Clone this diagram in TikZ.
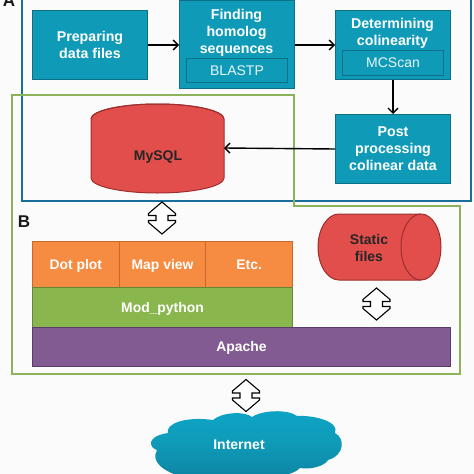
\documentclass[tikz,border=0pt]{standalone}
\usepackage{fontspec}
\setmainfont{Liberation Sans}
\usetikzlibrary{arrows.meta}
\definecolor{tealf}{HTML}{0F9BB8}
\definecolor{teald}{HTML}{0E6F86}
\definecolor{cloudb}{HTML}{0C86A4}
\definecolor{cloudt}{HTML}{0DA4C6}
\definecolor{redf}{HTML}{E14E4C}
\definecolor{redd}{HTML}{9E2F2E}
\definecolor{framea}{HTML}{1A6E9C}
\definecolor{frameb}{HTML}{8DB35A}
\definecolor{orangef}{HTML}{F68C42}
\definecolor{oranged}{HTML}{C8682A}
\definecolor{greenf}{HTML}{8AB64E}
\definecolor{purplef}{HTML}{825B93}
\definecolor{purpled}{HTML}{5A3D6B}
\definecolor{pagebg}{HTML}{FBFBFB}
\tikzset{
  tbox/.style={draw=teald,line width=1pt,fill=tealf,text=white,font=\fontsize{14.2}{17}\selectfont\bfseries,align=center,inner sep=0pt,anchor=north west},
  tlabel/.style={text=white,font=\fontsize{14.2}{17}\selectfont\bfseries,align=center,inner sep=0pt},
  inner box/.style={draw=teald,line width=1pt,fill=tealf,text=white!90!tealf,font=\fontsize{14}{16}\selectfont,inner sep=0pt,anchor=north west},
  layer/.style={line width=1pt,text=white,font=\fontsize{13.9}{15}\selectfont\bfseries,inner sep=0pt,anchor=north west,text height=10pt,text depth=0pt},
  flow/.style={-{Straight Barb[length=5pt,width=10pt]},line width=1.4pt,black},
  dblarrow/.pic={\draw[black,line width=1.1pt,fill=white,line join=miter]
    (0,-16) -- (-13.5,-4.5) -- (-13.5,-2.5) -- (-6,-2.5) -- (-6,2.5) -- (-13.5,2.5) -- (-13.5,4.5)
    -- (0,16) -- (13.5,4.5) -- (13.5,2.5) -- (6,2.5) -- (6,-2.5) -- (13.5,-2.5) -- (13.5,-4.5) -- cycle;},
  lab/.style={font=\fontsize{14}{17.5}\selectfont\bfseries,text=black!85,align=center,inner sep=0pt},
}
\begin{document}
\begin{tikzpicture}[x=1pt,y=-1pt]
\useasboundingbox (0,0) rectangle (474,474);
\fill[pagebg] (0,0) rectangle (474,474);
% frames
\draw[framea,line width=2pt] (21.5,-5) -- (21.5,201) -- (471,201) -- (471,-5);
\draw[frameb,line width=2pt] (12,95) -- (294,95) -- (294,206) -- (460,206) -- (460,374) -- (12,374) -- cycle;
\node[font=\fontsize{17}{17}\selectfont\bfseries,text=black!90,inner sep=0pt] (labA) at (9,1) {A};
\node[font=\fontsize{17}{17}\selectfont\bfseries,text=black!90,inner sep=0pt] (labB) at (24,222) {B};
% process boxes
\node[tbox,minimum width=115pt,minimum height=69pt] (prep) at (32,10) {Preparing\\data files};
\node[tbox,minimum width=115pt,minimum height=88pt] (find) at (179,0) {};
\node[tlabel] (findt) at (236.5,32.5) {Finding\\homolog\\sequences};
\node[inner box,minimum width=101pt,minimum height=24pt] (blast) at (186,58) {BLASTP};
\node[tbox,minimum width=115pt,minimum height=69pt] (det) at (335,10) {};
\node[tlabel] (dett) at (392.5,33) {Determining\\colinearity};
\node[inner box,minimum width=101pt,minimum height=25pt] (mcs) at (342,50) {MCScan};
\node[tbox,minimum width=115pt,minimum height=69pt] (post) at (335,114) {Post\\processing\\colinear data};
% MySQL
\path[draw=redd,line width=1pt,fill=redf] (91,119) -- (91,178) arc[start angle=180,end angle=360,x radius=66.5pt,y radius=15pt] -- (224,119) arc[start angle=0,end angle=180,x radius=66.5pt,y radius=15pt] -- cycle;
\draw[redd,line width=1pt] (91,119) arc[start angle=180,end angle=360,x radius=66.5pt,y radius=-15pt];
\coordinate (mysqlE) at (224,148);
\node[lab] (mysql) at (158,157) {MySQL};
% connectors
\draw[flow] (prep.east) -- (find.west |- prep.east);
\draw[flow] (find.east |- det.west) -- (det.west);
\draw[flow] (det.south) -- (post.north);
\draw[flow] (post.west) -- (mysqlE);
% Static files
\path[draw=redd,line width=1pt,fill=redf] (339,214) -- (421,214) arc[start angle=90,end angle=-90,x radius=20pt,y radius=33pt] -- (339,280) arc[start angle=270,end angle=90,x radius=21pt,y radius=33pt] -- cycle;
\draw[redd,line width=1pt] (421,214) arc[start angle=90,end angle=270,x radius=20pt,y radius=33pt];
\node[lab] (static) at (369,248) {Static\\files};
% stack
\node[layer,draw=oranged,fill=orangef,minimum width=86.7pt,minimum height=46pt] (dot) at (32,241) {Dot plot};
\node[layer,draw=oranged,fill=orangef,minimum width=86.7pt,minimum height=46pt] (map) at (118.7,241) {Map view};
\node[layer,draw=oranged,fill=orangef,minimum width=86.6pt,minimum height=46pt] (etc) at (205.4,241) {Etc.};
\node[layer,draw=greenf!75!black,fill=greenf,minimum width=260pt,minimum height=39.5pt] (mod) at (32,287) {Mod\_python};
\node[layer,draw=purpled,fill=purplef,minimum width=418pt,minimum height=39.5pt] (apache) at (32,326.5) {Apache};
% double arrows
\pic (a1) at (162,218) {dblarrow};
\pic (a2) at (376.5,304) {dblarrow};
\pic (a3) at (246,395.5) {dblarrow};
% cloud
\path[top color=cloudt,bottom color=cloudb,middle color=tealf] (157,450)
 .. controls (148,447) and (147,436) .. (168,433)
 .. controls (165,424) and (185,416) .. (213,420)
 .. controls (222,412) and (245,411) .. (252,417)
 .. controls (262,410) and (288,409) .. (297,416)
 .. controls (315,415) and (340,422) .. (335,433)
 .. controls (345,438) and (345,455) .. (328,460)
 .. controls (325,466) and (310,470) .. (300,468)
 .. controls (293,475) and (280,476) .. (270,476)
 -- (180,476) .. controls (165,472) and (150,462) .. (157,450) -- cycle;
\node[font=\fontsize{14}{15}\selectfont\bfseries,text=white,inner sep=0pt] (net) at (239,445) {Internet};
\end{tikzpicture}
\end{document}
